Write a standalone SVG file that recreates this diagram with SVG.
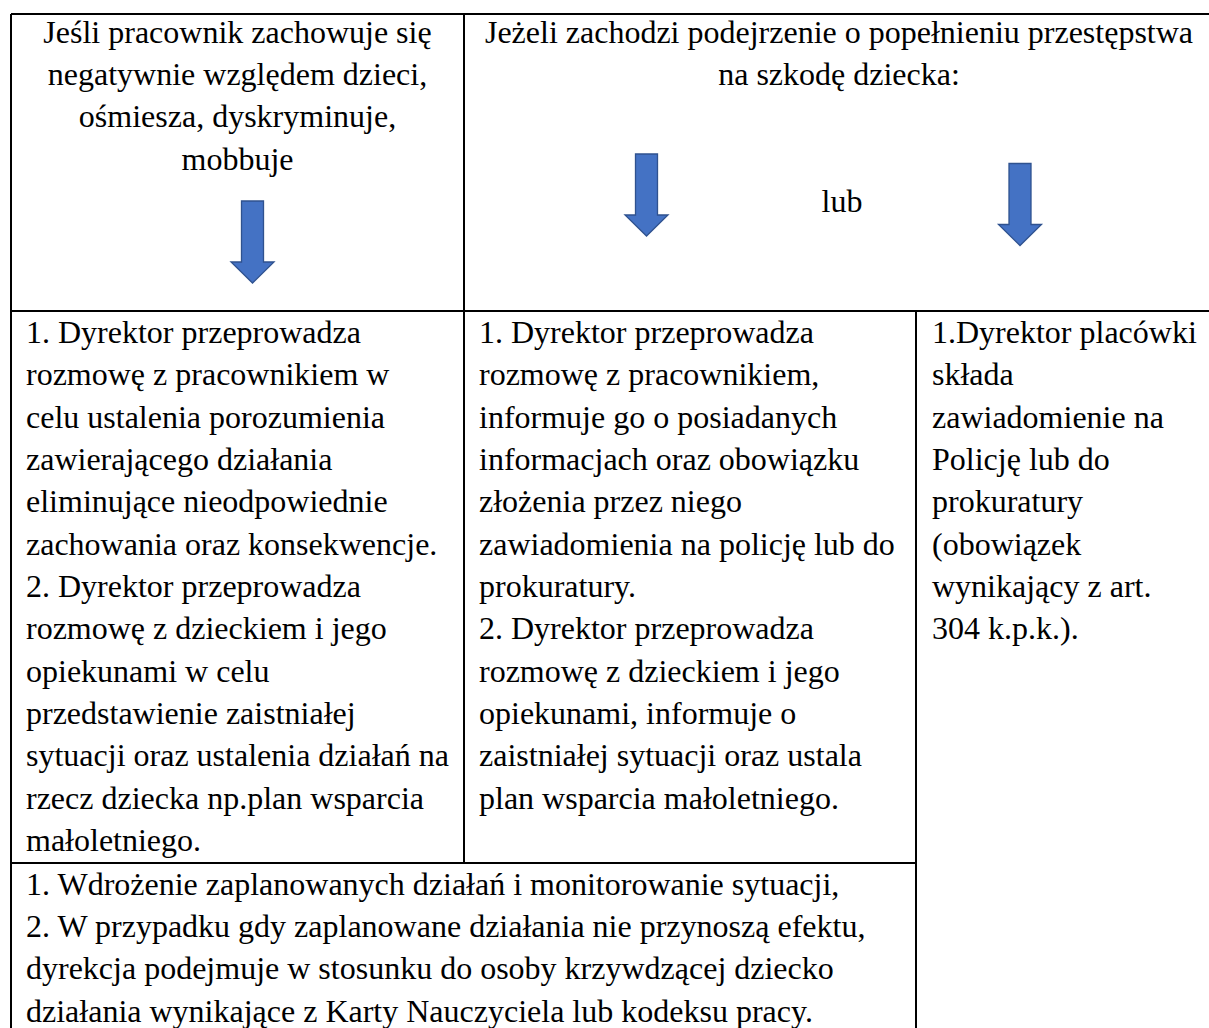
<svg xmlns="http://www.w3.org/2000/svg" xmlns:xlink="http://www.w3.org/1999/xlink" width="1209" height="1028" viewBox="0 0 1209 1028">
<style>
  text { font-family: "Liberation Serif", "Times New Roman", serif; font-size: 32px; fill: #000; }
  .c { text-anchor: middle; }
  .grid { stroke: #000; stroke-width: 2; fill: none; }
  .arrow { fill: #4472C4; stroke: #2F528F; stroke-width: 1.3; }
</style>
<defs>
  <path id="downArrow" d="M-11,0 H11 V61 H21.5 L0,82 L-21.5,61 H-11 Z"/>
</defs>
<rect width="1209" height="1028" fill="#fff"/>

<g id="grid" class="grid">
  <line x1="11" y1="14" x2="1209" y2="14"/>
  <line x1="11" y1="14" x2="11" y2="1028"/>
  <line x1="464" y1="14" x2="464" y2="863"/>
  <line x1="11" y1="311" x2="1209" y2="311"/>
  <line x1="916" y1="311" x2="916" y2="1028"/>
  <line x1="11" y1="863" x2="916" y2="863"/>
</g>

<g id="header-left">
  <text class="c" x="237.5" y="42.7">Jeśli pracownik zachowuje się</text>
  <text class="c" x="237.5" y="85">negatywnie względem dzieci,</text>
  <text class="c" x="237.5" y="127.3">ośmiesza, dyskryminuje,</text>
  <text class="c" x="237.5" y="169.7">mobbuje</text>
</g>

<g id="header-right">
  <text class="c" x="839" y="42.7">Jeżeli zachodzi podejrzenie o popełnieniu przestępstwa</text>
  <text class="c" x="839" y="85">na szkodę dziecka:</text>
  <text class="c" x="842" y="212">lub</text>
</g>

<g id="connectors">
  <use xlink:href="#downArrow" class="arrow" transform="translate(252.5,201)"/>
  <use xlink:href="#downArrow" class="arrow" transform="translate(646.5,154)"/>
  <use xlink:href="#downArrow" class="arrow" transform="translate(1020,163.5)"/>
</g>

<g id="cell-left">
  <text x="26" y="343">1. Dyrektor przeprowadza</text>
  <text x="26" y="385.3">rozmowę z pracownikiem w</text>
  <text x="26" y="427.7">celu ustalenia porozumienia</text>
  <text x="26" y="470">zawierającego działania</text>
  <text x="26" y="512.3">eliminujące nieodpowiednie</text>
  <text x="26" y="554.7">zachowania oraz konsekwencje.</text>
  <text x="26" y="597">2. Dyrektor przeprowadza</text>
  <text x="26" y="639.3">rozmowę z dzieckiem i jego</text>
  <text x="26" y="681.7">opiekunami w celu</text>
  <text x="26" y="724">przedstawienie zaistniałej</text>
  <text x="26" y="766.3">sytuacji oraz ustalenia działań na</text>
  <text x="26" y="808.7">rzecz dziecka np.plan wsparcia</text>
  <text x="26" y="851">małoletniego.</text>
</g>

<g id="cell-middle">
  <text x="479" y="343">1. Dyrektor przeprowadza</text>
  <text x="479" y="385.3">rozmowę z pracownikiem,</text>
  <text x="479" y="427.7">informuje go o posiadanych</text>
  <text x="479" y="470">informacjach oraz obowiązku</text>
  <text x="479" y="512.3">złożenia przez niego</text>
  <text x="479" y="554.7">zawiadomienia na policję lub do</text>
  <text x="479" y="597">prokuratury.</text>
  <text x="479" y="639.3">2. Dyrektor przeprowadza</text>
  <text x="479" y="681.7">rozmowę z dzieckiem i jego</text>
  <text x="479" y="724">opiekunami, informuje o</text>
  <text x="479" y="766.3">zaistniałej sytuacji oraz ustala</text>
  <text x="479" y="808.7">plan wsparcia małoletniego.</text>
</g>

<g id="cell-right">
  <text x="932" y="343">1.Dyrektor placówki</text>
  <text x="932" y="385.3">składa</text>
  <text x="932" y="427.7">zawiadomienie na</text>
  <text x="932" y="470">Policję lub do</text>
  <text x="932" y="512.3">prokuratury</text>
  <text x="932" y="554.7">(obowiązek</text>
  <text x="932" y="597">wynikający z art.</text>
  <text x="932" y="639.3">304 k.p.k.).</text>
</g>

<g id="cell-bottom">
  <text x="26" y="894.5">1. Wdrożenie zaplanowanych działań i monitorowanie sytuacji,</text>
  <text x="26" y="936.8">2. W przypadku gdy zaplanowane działania nie przynoszą efektu,</text>
  <text x="26" y="979.2">dyrekcja podejmuje w stosunku do osoby krzywdzącej dziecko</text>
  <text x="26" y="1021.5">działania wynikające z Karty Nauczyciela lub kodeksu pracy.</text>
</g>
</svg>
